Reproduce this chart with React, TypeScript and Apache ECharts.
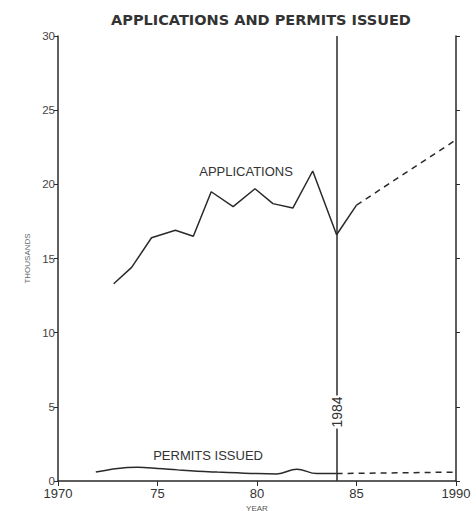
import React, { useEffect, useRef } from "react";
import * as echarts from "echarts";

// Applications (thousands) — solid observed part
const appYears = [1972.8, 1973.7, 1974.7, 1975.9, 1976.8, 1977.7, 1978.8, 1979.9, 1980.8, 1981.8, 1982.8, 1984.0, 1985.0];
const appValues = [13.3, 14.4, 16.4, 16.9, 16.5, 19.5, 18.5, 19.7, 18.7, 18.4, 20.9, 16.6, 18.6];
// Applications projection (dashed)
const appProjYears = [1985.0, 1990];
const appProjValues = [18.6, 23.0];

// Permits issued (thousands)
const permYears = [1971.9, 1973, 1974, 1975, 1976, 1977, 1978, 1979, 1980, 1981, 1982, 1983, 1984];
const permValues = [0.6, 0.85, 0.92, 0.85, 0.75, 0.66, 0.6, 0.55, 0.5, 0.48, 0.8, 0.5, 0.5];
const permProjYears = [1984, 1990];
const permProjValues = [0.5, 0.6];

const xTicks = [1970, 1975, 1980, 1985, 1990];
const xTickLabels = ["1970", "75", "80", "85", "1990"];
const markerYear = 1984;

const TITLE = "APPLICATIONS AND PERMITS ISSUED";
const FONT = "'Liberation Sans', Arial, Helvetica, sans-serif";
const TITLE_FONT = "'DejaVu Sans', 'Liberation Sans', sans-serif";
const INK = "#2a2a2a";

const pairs = (xs: number[], ys: number[]) => xs.map((x, i) => [x, ys[i]]);

const textMark = (coord: number[], text: string, extra: any = {}) => ({
  coord,
  symbol: "circle",
  symbolSize: 1,
  itemStyle: { color: "rgba(0,0,0,0)" },
  label: {
    show: true,
    formatter: text,
    position: "inside",
    fontFamily: FONT,
    fontSize: 13,
    color: "#333",
    ...extra,
  },
});

export default function App() {
  const ref = useRef<HTMLDivElement>(null);
  useEffect(() => {
    document.body.style.margin = "0";
    const chart = echarts.init(ref.current!, undefined, { renderer: "svg" });
    const lineStyle = { color: INK, width: 1.5 };
    chart.setOption({
      animation: false,
      backgroundColor: "#ffffff",
      title: {
        text: TITLE,
        left: 256,
        top: 7,
        textAlign: "center",
        textStyle: { fontFamily: TITLE_FONT, fontSize: 14.5, fontWeight: "bold", color: "#333" },
      },
      grid: {
        left: 58,
        right: 20,
        top: 36,
        bottom: 30,
        containLabel: false,
        outerBoundsMode: "none",
      },
      xAxis: {
        type: "value",
        min: 1970,
        max: 1990,
        interval: 5,
        name: "YEAR",
        nameLocation: "middle",
        nameGap: 23,
        nameMoveOverlap: false,
        nameTextStyle: { fontFamily: FONT, fontSize: 8, color: "#555" },
        axisLine: { show: true, onZero: false, lineStyle: { color: INK, width: 1.5 } },
        axisTick: { show: true, inside: false, length: 5, lineStyle: { color: INK } },
        axisLabel: {
          margin: 6,
          fontFamily: FONT,
          fontSize: 13,
          lineHeight: 13,
          color: "#333",
          formatter: (v: number) => {
            const i = xTicks.indexOf(v);
            return i >= 0 ? xTickLabels[i] : "";
          },
        },
        splitLine: { show: false },
      },
      yAxis: [
        {
          type: "value",
          min: 0,
          max: 30,
          interval: 5,
          position: "left",
          name: "THOUSANDS",
          nameLocation: "middle",
          nameGap: 27,
          nameMoveOverlap: false,
          nameTextStyle: { fontFamily: FONT, fontSize: 8, color: "#666" },
          axisLine: { show: true, lineStyle: { color: INK, width: 1.5 } },
          axisTick: { show: true, inside: false, length: 4, lineStyle: { color: INK } },
          axisLabel: { margin: 3, fontFamily: FONT, fontSize: 11.5, lineHeight: 11, color: "#444" },
          splitLine: { show: false },
        },
        {
          type: "value",
          min: 0,
          max: 30,
          interval: 5,
          position: "right",
          axisLine: { show: true, lineStyle: { color: INK, width: 1.5 } },
          axisTick: { show: true, inside: false, length: 4, lineStyle: { color: INK } },
          axisLabel: { show: false },
          splitLine: { show: false },
        },
      ],
      series: [
        {
          type: "line",
          name: "Applications",
          data: pairs(appYears, appValues),
          showSymbol: false,
          lineStyle,
          markLine: {
            silent: true,
            symbol: "none",
            label: { show: false },
            lineStyle: { color: INK, width: 1.5, type: "solid" },
            data: [[{ coord: [markerYear, 30] }, { coord: [markerYear, 0] }]],
          },
          markPoint: {
            silent: true,
            data: [
              textMark([1979.45, 20.84], "APPLICATIONS"),
              textMark([markerYear, 4.65], String(markerYear), {
                rotate: 90,
                fontSize: 14,
                backgroundColor: "#ffffff",
                padding: [4, 1],
              }),
            ],
          },
          z: 3,
        },
        {
          type: "line",
          name: "Applications projected",
          data: pairs(appProjYears, appProjValues),
          showSymbol: false,
          lineStyle: { ...lineStyle, type: [6, 5] },
        },
        {
          type: "line",
          name: "Permits issued",
          data: pairs(permYears, permValues),
          showSymbol: false,
          smooth: 0.4,
          lineStyle,
          markPoint: {
            silent: true,
            data: [textMark([1977.54, 1.75], "PERMITS ISSUED")],
          },
        },
        {
          type: "line",
          name: "Permits projected",
          data: pairs(permProjYears, permProjValues),
          showSymbol: false,
          lineStyle: { ...lineStyle, type: [6, 5] },
        },
      ],
    });
    return () => chart.dispose();
  }, []);
  return <div ref={ref} style={{ width: 476, height: 511 }} />;
}
